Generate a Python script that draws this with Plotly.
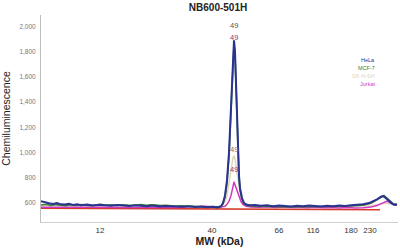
import plotly.graph_objects as go

# ---- data ----
title = "NB600-501H"
series_names = ["HeLa", "MCF-7", "SK-N-SH", "Jurkat"]
series_colors = ["#2a3490", "#3d7d3a", "#dcd6b4", "#d038c4"]
label_colors = ["#555555", "#8a3a7a", "#777777", "#8a3a7a"]
label_shift = [15, 7, 6, 12]
peak_label = "49"

mw_tick_labels = ["12", "40", "66", "116", "180", "230"]
mw_tick_pos = [59, 171, 238, 272, 310, 329]
y_ticks = [600, 800, 1000, 1200, 1400, 1600, 1800, 2000]

hela_pos = [0, 4, 8, 12, 16, 20, 24, 28, 32, 36, 40, 46, 52, 58, 64, 70, 76, 82, 88, 94,
            100, 106, 112, 118, 124, 130, 136, 142, 148, 154, 160, 166, 172, 177, 180, 182,
            184, 186, 188, 189, 190, 191, 192, 193, 194, 195, 196, 197, 198, 199, 201, 203,
            206, 209, 214, 220, 226, 232, 238, 244, 250, 256, 262, 268, 274, 280, 286, 292,
            298, 304, 310, 316, 322, 328, 332, 336, 340, 342, 344, 346, 348, 350, 352, 354, 356]
hela_val = [615, 605, 598, 592, 600, 590, 588, 594, 585, 590, 583, 588, 580, 586, 582, 578,
            584, 580, 576, 582, 578, 575, 580, 572, 577, 574, 576, 570, 574, 568, 572, 566,
            570, 566, 575, 600, 660, 780, 1000, 1180, 1400, 1650, 1830, 1890, 1800, 1560,
            1250, 1000, 820, 720, 640, 600, 586, 582, 585, 578, 582, 575, 580, 576, 572, 578,
            574, 580, 576, 572, 578, 574, 580, 576, 582, 585, 590, 600, 612, 630, 650, 655,
            645, 630, 612, 598, 590, 585, 588]

mcf7_pos = [0, 5, 10, 15, 20, 25, 30, 35, 40, 45, 50, 55, 60, 65, 70, 75, 80, 85, 90, 95,
            100, 105, 110, 115, 120, 125, 130, 135, 140, 150, 160, 170, 177, 180, 182, 184,
            186, 188, 189, 190, 191, 192, 193, 194, 195, 196, 197, 198, 199, 201, 203, 206,
            212, 222, 235, 250, 265, 280, 295, 310, 322, 330, 336, 340, 343, 346, 349, 352, 356]
mcf7_val = [585, 590, 582, 588, 584, 580, 586, 582, 588, 584, 580, 585, 590, 583, 587, 582,
            586, 584, 580, 585, 588, 582, 586, 584, 580, 583, 578, 575, 578, 572, 570, 568,
            565, 572, 595, 650, 760, 975, 1150, 1370, 1620, 1800, 1860, 1780, 1540, 1230, 980,
            800, 705, 630, 595, 580, 576, 574, 572, 570, 572, 570, 574, 578, 584, 598, 625,
            648, 660, 640, 615, 595, 590]

sknsh_pos = [0, 20, 40, 60, 80, 100, 120, 140, 160, 175, 180, 184, 186, 188, 190, 192, 193,
             194, 196, 198, 200, 203, 208, 220, 250, 280, 310, 330, 345, 356]
sknsh_val = [580, 578, 582, 576, 580, 577, 575, 578, 574, 572, 578, 610, 660, 760, 880, 960,
             975, 950, 840, 720, 640, 595, 578, 575, 572, 574, 576, 580, 600, 585]

jurkat_pos = [0, 20, 40, 60, 80, 100, 120, 140, 150, 156, 162, 168, 174, 180, 184, 186, 188,
              190, 192, 193, 194, 196, 198, 200, 202, 205, 210, 218, 226, 234, 242, 250, 258,
              266, 274, 282, 290, 298, 306, 314, 322, 330, 336, 342, 346, 350, 356]
jurkat_val = [566, 568, 565, 567, 564, 566, 563, 565, 572, 568, 574, 570, 566, 568, 575, 590,
              615, 660, 730, 768, 745, 700, 650, 612, 590, 575, 568, 566, 570, 565, 568, 564,
              567, 563, 566, 562, 565, 561, 564, 560, 563, 568, 580, 600, 615, 598, 585]

baseline_pos = [0, 100, 200, 280, 339]
baseline_val = [560, 557, 553, 550, 547]

# ---- figure ----
FONT = "Liberation Sans, Arial, sans-serif"
fig = go.Figure()

fig.add_trace(go.Scatter(x=baseline_pos, y=baseline_val, mode="lines",
                         line=dict(color="#d63a2a", width=1.6), showlegend=False,
                         hoverinfo="skip"))

all_series = [
    (sknsh_pos, sknsh_val),
    (jurkat_pos, jurkat_val),
    (mcf7_pos, mcf7_val),
    (hela_pos, hela_val),
]
order = [2, 3, 1, 0]
widths = {0: 2.0, 1: 1.6, 2: 1.4, 3: 1.5}
for (xs, ys), idx in zip(all_series, order):
    fig.add_trace(go.Scatter(x=xs, y=ys, mode="lines", name=series_names[idx],
                             line=dict(color=series_colors[idx], width=widths[idx]),
                             showlegend=False))

annotations = []
# peak labels
for (xs, ys), idx in zip(all_series, order):
    m = max(ys)
    px = xs[ys.index(m)]
    annotations.append(dict(x=px, y=m, xref="x", yref="y", text=peak_label,
                            showarrow=False, yshift=label_shift[idx],
                            font=dict(family=FONT, size=7.5, color=label_colors[idx])))

# colored-text legend
for i, name in enumerate(series_names):
    annotations.append(dict(x=0.937, y=0.785 - i * 0.039, xref="paper", yref="paper",
                            text=name, showarrow=False, xanchor="right", yanchor="middle",
                            font=dict(family=FONT, size=5.5, color=series_colors[i]),
                            bgcolor="rgba(255,255,255,0.9)", borderpad=0))

fig.update_layout(
    width=400, height=250,
    margin=dict(l=41, r=2, t=15, b=28),
    paper_bgcolor="white", plot_bgcolor="white",
    title=dict(text="<b>" + title + "</b>", x=0.545, xanchor="center", y=0.972,
               yanchor="middle", font=dict(family=FONT, size=10, color="#222222")),
    annotations=annotations,
    showlegend=False,
)
fig.update_xaxes(range=[0, 357], tickmode="array", tickvals=mw_tick_pos,
                 ticktext=mw_tick_labels, showgrid=False, zeroline=False,
                 showline=True, linecolor="#cfcfcf", linewidth=1, ticks="",
                 tickfont=dict(family=FONT, size=8, color="#333333"),
                 title=dict(text="<b>MW (kDa)</b>", standoff=4,
                            font=dict(family=FONT, size=10.5, color="#222222")))
fig.update_yaxes(range=[450, 2090], tickmode="array", tickvals=y_ticks,
                 tickformat=",", showgrid=False, zeroline=False,
                 showline=True, linecolor="#bdbdbd", linewidth=1, ticks="",
                 ticklabelstandoff=3,
                 tickfont=dict(family=FONT, size=6.5, color="#777777"),
                 title=dict(text="Chemiluminescence", standoff=6,
                            font=dict(family=FONT, size=10.5, color="#222222")))

fig.write_html("out.html")
